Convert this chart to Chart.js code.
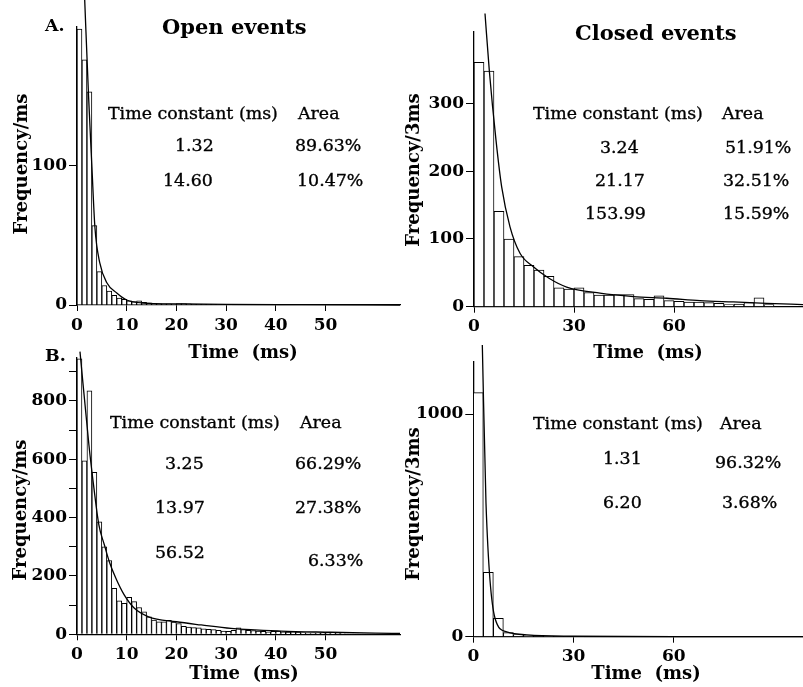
<!DOCTYPE html>
<html>
<head>
<meta charset="utf-8">
<script src="https://cdn.jsdelivr.net/npm/chart.js@4.4.1/dist/chart.umd.min.js"></script>
<style>
  html, body { margin: 0; padding: 0; background: #ffffff; }
  #page { position: relative; width: 803px; height: 687px; overflow: hidden; background: #ffffff; }
  #page canvas { position: absolute; }
  .txt { position: absolute; white-space: pre; color: #000; font-family: "DejaVu Serif", serif; font-size: 17.4px; transform: translateY(-50%); line-height: 20px; -webkit-text-stroke: 0.35px #000; }
  .bold { font-weight: bold; -webkit-text-stroke: 0; }
  .ytitle { position: absolute; white-space: pre; color: #000; font-family: "DejaVu Serif", serif; font-weight: bold; font-size: 18px; line-height: 20px; transform: translate(-50%, -50%) rotate(-90deg); }
  .xtitle { position: absolute; white-space: pre; color: #000; font-family: "DejaVu Serif", serif; font-weight: bold; font-size: 18px; line-height: 20px; transform: translate(-50%, -50%); }
</style>
</head>
<body>
<div id="page">
  <canvas id="openA" width="405" height="365" style="left:0px;top:0px"></canvas>
  <canvas id="closedA" width="408" height="365" style="left:395px;top:0px"></canvas>
  <canvas id="openB" width="405" height="357" style="left:0px;top:330px"></canvas>
  <canvas id="closedB" width="408" height="357" style="left:395px;top:330px"></canvas>
</div>
<script>
// bin widths (ms)
const openBinMs = 1;
const closedBinMs = 3;

// A. open events, counts per 1 ms bin
const openACounts = [198, 176, 153, 57, 24, 14, 10, 7, 5, 4, 3, 2.5, 3, 2, 1.5, 1.2, 1, 0.8, 0.8, 0.6,
  1, 1, 0.8, 0.4, 0.4, 0.3, 0.3, 0.3, 0.2, 0.2, 0.2, 0.2, 0.2, 0.1, 0.1, 0.1, 0.1, 0.1, 0.1, 0.1];
// fitted curve [time, value]
const openAFitT = [1.55, 2.3, 3.0, 3.6, 4.6, 6, 8, 10, 13.3, 20, 30, 45, 65];
const openAFitV = [219, 152, 99, 56, 30, 16, 8.6, 3.6, 1.4, 0.8, 0.4, 0.2, 0];

// A. closed events, counts per 3 ms bin
const closedACounts = [361, 348, 141, 100, 74, 61, 54, 45, 28, 26, 28, 21, 17, 17, 18, 18, 12, 11, 16, 9,
  8, 7, 7, 6, 5, 3, 4, 6, 13, 3];
const closedAFitT = [3.3, 4.6, 6.6, 8.3, 10.8, 13.8, 17.8, 22.5, 27.8, 37.8, 47.8, 57.8, 67.8, 77.8, 87.8, 98.7];
const closedAFitV = [433, 348, 246, 177, 118, 79, 59, 42, 29, 20, 15, 12.5, 9, 7, 5, 3];

// B. open events, counts per 1 ms bin
const openBCounts = [944, 595, 835, 555, 386, 300, 253, 158, 115, 106, 127, 112, 92, 77, 60, 49, 43, 43, 48, 42,
  37, 27, 25, 23, 22, 19, 17, 16, 14, 11, 10, 14, 22, 16, 14, 13, 11, 10, 8, 10,
  11, 8, 7, 8, 7, 6, 5, 5, 3, 3, 3, 2, 3, 2, 1, 1, 1, 1, 1, 1];
const openBFitT = [0.6, 2.4, 3.4, 4.4, 5.5, 6.5, 7.8, 9.5, 11.5, 14.4, 20, 25, 31, 41, 51, 60, 65];
const openBFitV = [969, 649, 502, 375, 307, 249, 193, 135, 90, 60, 43, 32, 20, 11, 7, 4, 3];

// B. closed events, counts per 3 ms bin
const closedBCounts = [1096, 289, 83, 18, 10, 7, 4, 3, 2, 2, 1, 1, 1, 1, 0.5, 0.5, 0.5, 0.5, 0.3, 0.3];
const closedBFitT = [2.7, 3.8, 6.5, 10, 16, 30, 60, 98.7];
const closedBFitV = [1310, 599, 83, 22, 8, 2, 0, 0];

// axis ticks
const openXTicks = [0, 10, 20, 30, 40, 50];
const closedXTicks = [0, 30, 60];
const openAYTicks = [0, 100];
const closedAYTicks = [0, 100, 200, 300];
const openBYTicks = [0, 100, 200, 300, 400, 500, 600, 700, 800, 900];
const openBYLabels = [0, 200, 400, 600, 800];
const closedBYTicks = [0, 1000];

// fit tables
const openARows = [['1.32', '89.63%'], ['14.60', '10.47%']];
const closedARows = [['3.24', '51.91%'], ['21.17', '32.51%'], ['153.99', '15.59%']];
const openBRows = [['3.25', '66.29%'], ['13.97', '27.38%'], ['56.52', '6.33%']];
const closedBRows = [['1.31', '96.32%'], ['6.20', '3.68%']];

const TICK_FONT = { family: 'DejaVu Serif', size: 17, weight: 'bold' };

function histogramChart(id, cfg) {
  const ctx = document.getElementById(id);
  const bars = cfg.counts.map((v, i) => ({ x: i * cfg.bin + cfg.bin / 2, y: v }));
  const fit = cfg.fitT.map((t, i) => ({ x: t, y: cfg.fitV[i] }));
  const labelSet = cfg.yLabels || cfg.yTicks;

  return new Chart(ctx, {
    type: 'bar',
    data: {
      datasets: [
        {
          type: 'line',
          data: fit,
          borderColor: '#000',
          borderWidth: 1.3,
          pointRadius: 0,
          cubicInterpolationMode: 'monotone',
          fill: false,
          clip: false
        },
        {
          type: 'bar',
          data: bars,
          backgroundColor: '#fff',
          borderColor: '#000',
          borderWidth: 1,
          barPercentage: 1,
          categoryPercentage: 1,
          grouped: false
        }
      ]
    },
    options: {
      responsive: false,
      animation: false,
      events: [],
      layout: { padding: cfg.padding },
      plugins: { legend: { display: false }, tooltip: { enabled: false } },
      scales: {
        x: {
          type: 'linear',
          min: 0,
          max: cfg.xMax,
          offset: false,
          afterFit: (s) => { s.height = cfg.xHeight; },
          afterBuildTicks: (s) => { s.ticks = cfg.xTicks.map(v => ({ value: v })); },
          grid: { drawOnChartArea: false, drawTicks: true, tickLength: 6, color: '#000', offset: false },
          border: { display: true, color: '#000', width: 1.3 },
          ticks: { color: '#000', font: TICK_FONT, padding: 4, maxRotation: 0, autoSkip: false }
        },
        y: {
          min: 0,
          max: cfg.yMax,
          afterFit: (s) => { s.width = cfg.yWidth; },
          afterBuildTicks: (s) => { s.ticks = cfg.yTicks.map(v => ({ value: v })); },
          grid: { drawOnChartArea: false, drawTicks: true, tickLength: 8, color: '#000' },
          border: { display: true, color: '#000', width: 1.3 },
          ticks: {
            color: '#000',
            font: TICK_FONT,
            padding: 2,
            autoSkip: false,
            callback: (v) => labelSet.includes(v) ? String(v) : ''
          }
        }
      }
    }
  });
}

histogramChart('openA', {
  counts: openACounts, bin: openBinMs, fitT: openAFitT, fitV: openAFitV,
  xMax: 65, yMax: 200, xTicks: openXTicks, yTicks: openAYTicks,
  padding: { top: 26.4, right: 5, left: 0, bottom: 0 }, yWidth: 77, xHeight: 60
});
histogramChart('closedA', {
  counts: closedACounts, bin: closedBinMs, fitT: closedAFitT, fitV: closedAFitV,
  xMax: 98.7, yMax: 406, xTicks: closedXTicks, yTicks: closedAYTicks,
  padding: { top: 31.8, right: 0, left: 0, bottom: 0 }, yWidth: 79, xHeight: 58.3
});
histogramChart('openB', {
  counts: openBCounts, bin: openBinMs, fitT: openBFitT, fitV: openBFitV,
  xMax: 65, yMax: 950, xTicks: openXTicks, yTicks: openBYTicks, yLabels: openBYLabels,
  padding: { top: 27.2, right: 5, left: 0, bottom: 0 }, yWidth: 77, xHeight: 52.7
});
histogramChart('closedB', {
  counts: closedBCounts, bin: closedBinMs, fitT: closedBFitT, fitV: closedBFitV,
  xMax: 98.7, yMax: 1235, xTicks: closedXTicks, yTicks: closedBYTicks,
  padding: { top: 31.7, right: 0, left: 0, bottom: 0 }, yWidth: 78.3, xHeight: 50.3
});

// text around the plots
const page = document.getElementById('page');
function addText(text, x, y, cls, extra) {
  const d = document.createElement('div');
  d.className = cls;
  d.textContent = text;
  d.style.left = x + 'px';
  d.style.top = y + 'px';
  if (extra) Object.assign(d.style, extra);
  page.appendChild(d);
}

function addTable(rows, headX, areaX, headY, rowPos) {
  addText('Time constant (ms)', headX, headY, 'txt');
  addText('Area', areaX, headY, 'txt');
  rows.forEach((r, i) => {
    const p = rowPos[i];
    addText(r[0], p[0], p[1], 'txt');
    addText(r[1], p[2], p[3], 'txt');
  });
}

addText('A.', 45, 25, 'txt bold');
addText('B.', 45, 355, 'txt bold');
addText('Open events', 162, 27, 'txt bold', { fontSize: '21px', lineHeight: '26px' });
addText('Closed events', 575, 33, 'txt bold', { fontSize: '21px', lineHeight: '26px' });

addTable(openARows, 108, 298, 113, [[175, 145, 295, 145], [163, 180, 297, 180]]);
addTable(closedARows, 533, 722, 113, [[600, 147, 725, 147], [595, 180, 723, 180], [585, 213, 723, 213]]);
addTable(openBRows, 110, 300, 422, [[165, 463, 295, 463], [155, 507, 295, 507], [155, 552, 308, 560]]);
addTable(closedBRows, 533, 720, 423, [[603, 458, 715, 462], [603, 502, 722, 502]]);

addText('Time  (ms)', 243, 352, 'xtitle');
addText('Time  (ms)', 648, 352, 'xtitle');
addText('Time  (ms)', 244, 673, 'xtitle');
addText('Time  (ms)', 646, 673, 'xtitle');

addText('Frequency/ms', 21, 164, 'ytitle');
addText('Frequency/3ms', 413, 170, 'ytitle');
addText('Frequency/ms', 20, 510, 'ytitle');
addText('Frequency/3ms', 413, 504, 'ytitle');
</script>
</body>
</html>
